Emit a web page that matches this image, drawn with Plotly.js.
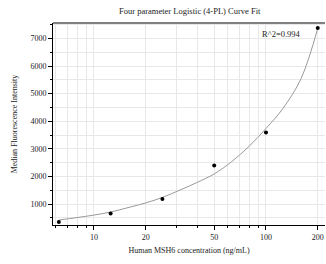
<!DOCTYPE html>
<html><head><meta charset="utf-8">
<script src="https://cdn.plot.ly/plotly-3.0.1.min.js"></script>
<style>html,body{margin:0;padding:0;background:#fff}#c{width:326px;height:264px}</style>
</head><body><div id="c"></div>
<script>
const concentrations = [6.25, 12.5, 25, 50, 100, 200];
const mfi = [350, 660, 1180, 2400, 3590, 7380];
const fitX = [6.25, 8, 10, 12.5, 16, 20, 25, 32, 40, 50, 63, 80, 100, 125, 160, 200];
const fitY = [420, 510, 600, 710, 880, 1040, 1240, 1520, 1790, 2090, 2530, 3100, 3740, 4450, 5550, 7370];
const xTickVals = [10, 20, 50, 100, 200];
const xMinorVals = [6, 7, 8, 9, 30, 40, 60, 70, 80, 90];
const yTickVals = [1000, 2000, 3000, 4000, 5000, 6000, 7000];
const yMinorVals = [500, 1500, 2500, 3500, 4500, 5500, 6500, 7500];
const titleText = 'Four parameter Logistic (4-PL) Curve Fit';
const xTitle = 'Human MSH6 concentration (ng/mL)';
const yTitle = 'Median Fluorescence Intensity';
const r2Text = 'R^2=0.994';

const font = 'Liberation Serif, Times New Roman, serif';
const grid = '#e8e8e8';
Plotly.newPlot('c', [
  {x: fitX, y: fitY, mode: 'lines', line: {color: '#9a9a9a', width: 1, shape: 'spline'}, hoverinfo: 'skip'},
  {x: concentrations, y: mfi, mode: 'markers', marker: {color: '#000', size: 4}}
], {
  width: 326, height: 264,
  margin: {l: 53, r: 1, t: 23, b: 39},
  paper_bgcolor: '#fff', plot_bgcolor: '#fff',
  showlegend: false,
  font: {family: font, size: 8, color: '#222'},
  title: {text: titleText, x: 0.582, xanchor: 'center', y: 0.96, yanchor: 'middle', font: {family: font, size: 8.5, color: '#222'}},
  xaxis: {type: 'log', range: [0.762, 2.343], tickmode: 'array', tickvals: xTickVals, ticktext: xTickVals.map(String),
    ticks: 'outside', ticklen: 4, tickcolor: '#000', showline: true, linecolor: '#000', linewidth: 1,
    showgrid: true, gridcolor: grid, gridwidth: 1, zeroline: false,
    minor: {tickmode: 'array', tickvals: xMinorVals, ticks: 'outside', ticklen: 2, tickcolor: '#000', showgrid: true, gridcolor: grid},
    tickfont: {family: font, size: 8, color: '#222'},
    title: {text: xTitle, standoff: 6, font: {family: font, size: 8, color: '#222'}}},
  yaxis: {range: [240, 7560], tickmode: 'array', tickvals: yTickVals, ticktext: yTickVals.map(String),
    ticks: 'outside', ticklen: 4, tickcolor: '#000', showline: true, linecolor: '#000', linewidth: 1,
    showgrid: true, gridcolor: grid, zeroline: false,
    minor: {tickmode: 'array', tickvals: yMinorVals, ticks: 'outside', ticklen: 2, tickcolor: '#000', showgrid: true, gridcolor: grid},
    tickfont: {family: font, size: 8, color: '#222'},
    title: {text: yTitle, standoff: 11, font: {family: font, size: 8, color: '#222'}}},
  shapes: [{type: 'line', xref: 'paper', yref: 'paper', x0: 0, x1: 1, y0: 1, y1: 1, line: {color: '#808080', width: 2}}],
  annotations: [{text: r2Text, xref: 'paper', yref: 'paper', x: 0.84, y: 0.945, xanchor: 'center', yanchor: 'middle', showarrow: false, font: {family: font, size: 8.5, color: '#222'}}]
}, {displayModeBar: false, staticPlot: true});
</script></body></html>
